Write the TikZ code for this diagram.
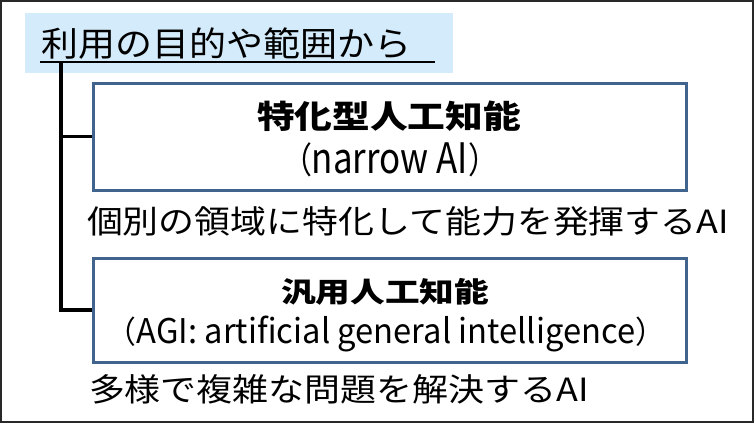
\documentclass[tikz,border=0pt]{standalone}
\usepackage{fontspec}
\usepackage{graphicx}
\setmainfont{Noto Sans CJK JP}
\definecolor{titlebg}{RGB}{211,235,250}
\definecolor{boxline}{RGB}{65,100,143}
\definecolor{frameline}{RGB}{40,40,40}
\newcommand\fitw[2]{\resizebox{#1}{\height}{#2}}
\tikzset{
  txt/.style={inner sep=0pt, outer sep=0pt, anchor=center, text=black},
  kindbox/.style={draw=boxline, line width=3pt, fill=white, inner sep=0pt},
  tree/.style={draw=black, line width=3.5pt},
}
\begin{document}
\begin{tikzpicture}[x=1pt,y=-1pt]
\useasboundingbox (0,0) rectangle (754,423);
\draw[frameline, line width=2pt] (1,1) rectangle (753,422);
% title band
\fill[titlebg] (25,13) rectangle (453,73);
\node[txt, anchor=west] (title) at (41,44) {\fitw{370pt}{\fontsize{34}{34}\selectfont 利用の目的や範囲から}};
\coordinate (ulstart) at (40,62);
\coordinate (ulend) at (435,62);
\draw[black, line width=2pt] (ulstart) -- (ulend);
% boxes
\node[kindbox, minimum width=593pt, minimum height=107pt] (box1) at (389.5,136.5) {};
\node[kindbox, minimum width=593pt, minimum height=104pt] (box2) at (389.5,310) {};
% tree
\coordinate (root) at (61,61);
\draw[tree] (root) |- (box1.west);
\draw[tree] (root) |- (box2.west);
% box 1 texts
\node[txt] (b1t) at (389,116) {\fitw{264pt}{\fontsize{32}{32}\selectfont\bfseries 特化型人工知能}};
\node[txt] (b1s) at (390,160) {\fitw{216pt}{{\fontsize{36}{36}\selectfont （}{\fontsize{42}{42}\selectfont narrow AI}{\fontsize{36}{36}\selectfont ）}}};
\node[txt, anchor=west] (d1) at (87,221) {\fitw{642pt}{\fontsize{32}{32}\selectfont 個別の領域に特化して能力を発揮するAI}};
% box 2 texts
\node[txt] (b2t) at (385,292) {\fitw{208pt}{\fontsize{28}{28}\selectfont\bfseries 汎用人工知能}};
\node[txt] (b2s) at (386,334) {\fitw{558pt}{{\fontsize{31}{31}\selectfont （}{\fontsize{34}{34}\selectfont AGI: artificial general intelligence}{\fontsize{31}{31}\selectfont ）}}};
\node[txt, anchor=west] (d2) at (89,389) {\fitw{500pt}{\fontsize{32}{32}\selectfont 多様で複雑な問題を解決するAI}};
\end{tikzpicture}
\end{document}
